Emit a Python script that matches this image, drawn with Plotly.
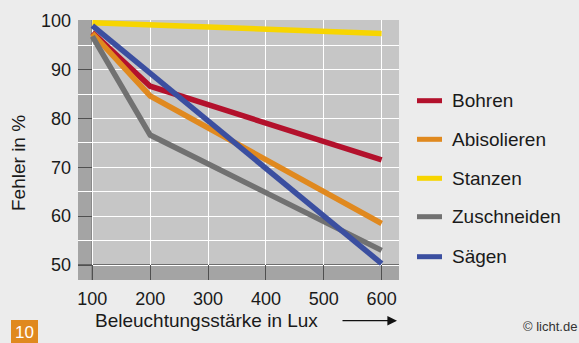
import plotly.graph_objects as go

# Beleuchtungsstärke (Lux) und Fehlerquote (%) je Tätigkeit
lux = [100, 200, 600]
series_names = ["Bohren", "Abisolieren", "Stanzen", "Zuschneiden", "Sägen"]
bohren = [97.6, 86.6, 71.5]
abisolieren = [97.4, 84.6, 58.5]
stanzen = [99.6, 99.2, 97.4]
zuschneiden = [96.8, 76.6, 53.0]
saegen = [99.0, 89.3, 50.3]
series_values = [bohren, abisolieren, stanzen, zuschneiden, saegen]
series_colors = ["#b3112c", "#e0891f", "#f7d500", "#717171", "#3b4fa0"]

x_ticks = [100, 200, 300, 400, 500, 600]
y_ticks = [50, 60, 70, 80, 90, 100]

W, H = 579, 343
ML, MR, MT, MB = 78, 180, 20, 63
PW, PH = W - ML - MR, H - MT - MB

FONT = "Liberation Sans, Arial, sans-serif"
TXT = "#1a1a1a"


def px(xpix):
    return (xpix - ML) / PW


def py(ypix):
    return (H - MB - ypix) / PH


fig = go.Figure()
for name, vals, col in zip(series_names, series_values, series_colors):
    fig.add_trace(go.Scatter(x=lux, y=vals, mode="lines", name=name,
                             line=dict(color=col, width=5.5), showlegend=False,
                             cliponaxis=True))

x_lo, x_hi = 75.2, 630
y_lo, y_hi = 46.93, 100.15

band = "#a4a4a4"
dark = "#505050"
shapes = [
    # dunkle Randstreifen links und unten
    dict(type="rect", xref="x", yref="paper", x0=x_lo, x1=x_ticks[0], y0=0, y1=1,
         fillcolor=band, line_width=0, layer="between"),
    dict(type="rect", xref="paper", yref="y", x0=0, x1=1, y0=y_lo, y1=y_ticks[0],
         fillcolor=band, line_width=0, layer="between"),
    # Achsenlinien bei 100 Lux und 50 %
    dict(type="line", xref="x", yref="paper", x0=x_ticks[0], x1=x_ticks[0], y0=0, y1=1,
         line=dict(color=dark, width=1.3), layer="between"),
    dict(type="line", xref="paper", yref="y", x0=0, x1=1, y0=y_ticks[0], y1=y_ticks[0],
         line=dict(color=dark, width=1.3), layer="between"),
]

annotations = []
# Legende
leg_y = [100.7, 139.3, 178.3, 216.7, 256.7]
for name, col, yy in zip(series_names, series_colors, leg_y):
    shapes.append(dict(type="line", xref="paper", yref="paper",
                       x0=px(417), x1=px(442), y0=py(yy), y1=py(yy),
                       line=dict(color=col, width=5)))
    annotations.append(dict(text=name, xref="paper", yref="paper", x=px(450), y=py(yy),
                            xanchor="left", yanchor="middle", showarrow=False,
                            font=dict(family=FONT, size=19, color=TXT)))

# Achsentitel
annotations.append(dict(text="Fehler in %", xref="paper", yref="paper", x=px(18), y=py(163),
                        textangle=-90, xanchor="center", yanchor="middle", showarrow=False,
                        font=dict(family=FONT, size=19, color=TXT)))
annotations.append(dict(text="Beleuchtungsstärke in Lux", xref="paper", yref="paper",
                        x=px(93), y=py(321), xanchor="left", yanchor="middle", showarrow=False,
                        font=dict(family=FONT, size=19, color=TXT)))
# Pfeil
annotations.append(dict(text="", xref="paper", yref="paper", x=px(397), y=py(320.7),
                        ax=-56, ay=0, axref="pixel", ayref="pixel", showarrow=True,
                        arrowhead=2, arrowsize=1.6, arrowwidth=1.2, arrowcolor="#111111"))
# Bildnummer
shapes.append(dict(type="rect", xref="paper", yref="paper", x0=px(11), x1=px(38),
                   y0=py(343), y1=py(320), fillcolor="#e0891f", line_width=0))
annotations.append(dict(text="10", xref="paper", yref="paper", x=px(24.5), y=py(332),
                        xanchor="center", yanchor="middle", showarrow=False,
                        font=dict(family=FONT, size=17, color="white")))
annotations.append(dict(text="© licht.de", xref="paper", yref="paper", x=px(579), y=py(326),
                        xanchor="right", yanchor="middle", showarrow=False,
                        font=dict(family=FONT, size=13, color="#333333")))

fig.update_layout(
    width=W, height=H,
    margin=dict(l=ML, r=MR, t=MT, b=MB, pad=0),
    paper_bgcolor="#ececec",
    plot_bgcolor="#c6c6c6",
    shapes=shapes,
    annotations=annotations,
    xaxis=dict(range=[x_lo, x_hi], tickmode="array", tickvals=x_ticks,
               ticks="inside", ticklen=15, tickwidth=1.3, tickcolor=dark,
               showgrid=True, gridcolor="white", gridwidth=1.2,
               zeroline=False, showline=False, fixedrange=True,
               tickfont=dict(family=FONT, size=18, color=TXT), ticklabelstandoff=6),
    yaxis=dict(range=[y_lo, y_hi], tickmode="array", tickvals=y_ticks,
               ticks="inside", ticklen=14, tickwidth=1.3, tickcolor=dark,
               showgrid=True, gridcolor="white", gridwidth=1.2,
               minor=dict(dtick=5, showgrid=True, gridcolor="white", gridwidth=1.2),
               zeroline=False, showline=False, fixedrange=True,
               tickfont=dict(family=FONT, size=18, color=TXT), ticklabelstandoff=6),
    showlegend=False,
)

fig.write_html("out.html")
